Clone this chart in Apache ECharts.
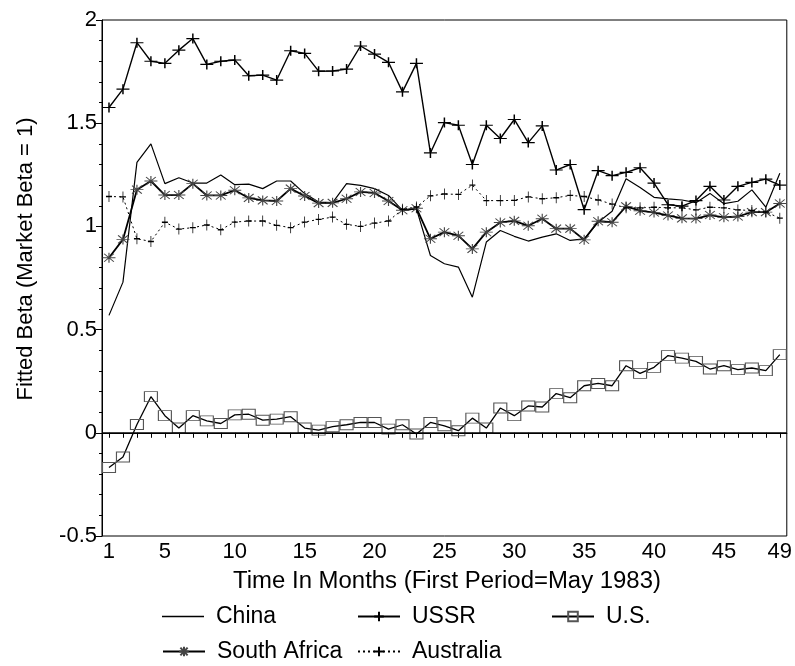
<!DOCTYPE html>
<html>
<head>
<meta charset="utf-8">
<script src="https://cdn.jsdelivr.net/npm/echarts@6/dist/echarts.min.js"></script>
<style>
html,body{margin:0;padding:0;background:#fff;}
#c{width:795px;height:666px;}
</style>
</head>
<body>
<div id="c"></div>
<script>
const months = Array.from({length: 49}, (_, i) => String(i + 1));
const xLabelsShown = ['1','5','10','15','20','25','30','35','40','45','49'];

const china = [0.569,0.73,1.31,1.40,1.207,1.236,1.21,1.21,1.249,1.202,1.205,1.183,1.22,1.22,1.159,1.118,1.115,1.207,1.199,1.183,1.15,1.078,1.085,0.859,0.819,0.803,0.657,0.924,0.98,0.952,0.929,0.948,0.964,0.932,0.94,1.02,1.073,1.231,1.189,1.141,1.133,1.128,1.115,1.16,1.11,1.122,1.177,1.093,1.258];
const ussr = [1.576,1.665,1.89,1.80,1.79,1.854,1.91,1.785,1.80,1.806,1.73,1.733,1.709,1.851,1.838,1.752,1.753,1.762,1.874,1.835,1.795,1.652,1.79,1.356,1.503,1.49,1.30,1.49,1.426,1.518,1.406,1.487,1.273,1.30,1.081,1.27,1.246,1.262,1.284,1.21,1.105,1.098,1.125,1.194,1.128,1.194,1.213,1.229,1.2];
const us = [-0.168,-0.117,0.04,0.175,0.083,0.023,0.083,0.058,0.045,0.087,0.09,0.061,0.066,0.078,0.023,0.013,0.03,0.039,0.05,0.05,0.018,0.039,-0.006,0.05,0.034,0.01,0.071,0.023,0.12,0.083,0.13,0.125,0.19,0.17,0.228,0.239,0.228,0.325,0.288,0.317,0.374,0.362,0.346,0.309,0.325,0.306,0.314,0.301,0.379];
const southAfrica = [0.848,0.937,1.178,1.22,1.152,1.152,1.207,1.15,1.15,1.175,1.138,1.126,1.123,1.183,1.147,1.113,1.114,1.134,1.167,1.162,1.123,1.078,1.088,0.94,0.972,0.955,0.891,0.972,1.019,1.027,1.003,1.037,0.989,0.989,0.935,1.025,1.02,1.097,1.076,1.067,1.053,1.039,1.038,1.055,1.044,1.048,1.069,1.069,1.111];
const australia = [1.145,1.143,0.94,0.927,1.02,0.987,0.994,1.007,0.984,1.021,1.026,1.026,1.005,0.994,1.021,1.034,1.045,1.01,1.0,1.016,1.026,1.083,1.094,1.148,1.157,1.155,1.2,1.125,1.125,1.126,1.143,1.134,1.139,1.15,1.145,1.128,1.108,1.09,1.09,1.093,1.09,1.09,1.08,1.093,1.09,1.08,1.077,1.07,1.04];

const FONT = 'Liberation Sans, Arial, sans-serif';
const PLUS = 'path://M0,5 L12,5 M6,1 L6,9';
const STAR = 'path://M0,5 L12,5 M6,0 L6,10 M1.5,1 L10.5,9 M1.5,9 L10.5,1';
const VPLUS = 'path://M0,5 L6,5 M3,0 L3,10';
const SQUARE = 'path://M0,0 L12,0 L12,9 L0,9 Z';

const chart = echarts.init(document.getElementById('c'), null, {renderer: 'canvas'});

function legendAt(name, left, top, extra) {
  return Object.assign({
    data: [name], left: left, top: top, orient: 'horizontal', padding: 0,
    itemWidth: 42, itemHeight: 12, itemGap: 0,
    textStyle: {fontFamily: FONT, fontSize: 23, color: '#000', padding: [0, 0, 0, 7]},
    selectedMode: false
  }, extra || {});
}

chart.setOption({
  animation: false,
  backgroundColor: '#fff',
  grid: {left: 102, right: 3, top: 20, bottom: 130, show: true, borderColor: '#000', borderWidth: 1, backgroundColor: 'transparent'},
  legend: [
    legendAt('China', 162, 605, {icon: 'rect', itemHeight: 1.3}),
    legendAt('USSR', 357, 605),
    legendAt('U.S.', 551, 605),
    legendAt('South Africa', 162, 640),
    legendAt('Australia', 357, 640)
  ],
  xAxis: {
    type: 'category', data: months, boundaryGap: true,
    axisLine: {show: true, lineStyle: {color: '#000', width: 1}},
    axisTick: {show: true, alignWithLabel: true, interval: 0, length: 5, lineStyle: {color: '#000'}},
    axisLabel: {
      interval: (idx, val) => xLabelsShown.includes(val),
      fontFamily: FONT, fontSize: 22, color: '#000', margin: 5
    },
    splitLine: {show: false}
  },
  yAxis: {
    type: 'value', min: -0.5, max: 2, interval: 0.5,
    axisLine: {show: true, lineStyle: {color: '#000', width: 1}},
    axisTick: {show: true, length: 6, lineStyle: {color: '#000'}},
    minorTick: {show: true, splitNumber: 5, length: 3, lineStyle: {color: '#000'}},
    axisLabel: {fontFamily: FONT, fontSize: 22, color: '#000', margin: 5},
    splitLine: {show: false}
  },
  graphic: [
    {type: 'text', x: 447, y: 582, scaleX: 1.04, style: {text: 'Time In Months (First Period=May 1983)', font: '23px ' + FONT, fill: '#000', align: 'center', verticalAlign: 'middle'}},
    {type: 'text', x: 26, y: 259, rotation: Math.PI / 2, style: {text: 'Fitted Beta (Market Beta = 1)', font: '22px ' + FONT, fill: '#000', align: 'center', verticalAlign: 'middle'}}
  ],
  series: [
    {
      name: 'China', type: 'line', data: china, symbol: 'none',
      lineStyle: {color: '#000', width: 1.2}, itemStyle: {color: '#000'}
    },
    {
      name: 'USSR', type: 'line', data: ussr, symbol: PLUS, symbolSize: [13, 10], showAllSymbol: true,
      lineStyle: {color: '#000', width: 1.4},
      itemStyle: {color: 'transparent', borderColor: '#000', borderWidth: 1.3}
    },
    {
      name: 'U.S.', type: 'line', data: us, symbol: SQUARE, symbolSize: [13, 10], showAllSymbol: true,
      lineStyle: {color: '#000', width: 1.3},
      itemStyle: {color: 'transparent', borderColor: '#555', borderWidth: 1},
      markLine: {
        silent: true, symbol: 'none', label: {show: false},
        lineStyle: {color: '#000', width: 1.5, type: 'solid'},
        data: [{yAxis: 0}]
      }
    },
    {
      name: 'South Africa', type: 'line', data: southAfrica, symbol: STAR, symbolSize: [13, 10], showAllSymbol: true,
      lineStyle: {color: '#000', width: 1.8},
      itemStyle: {color: 'transparent', borderColor: '#444', borderWidth: 1}
    },
    {
      name: 'Australia', type: 'line', data: australia, symbol: VPLUS, symbolSize: [6, 11], showAllSymbol: true,
      lineStyle: {color: '#000', width: 1, type: [2, 3]},
      itemStyle: {color: 'transparent', borderColor: '#000', borderWidth: 1}
    }
  ]
});
</script>
</body>
</html>
